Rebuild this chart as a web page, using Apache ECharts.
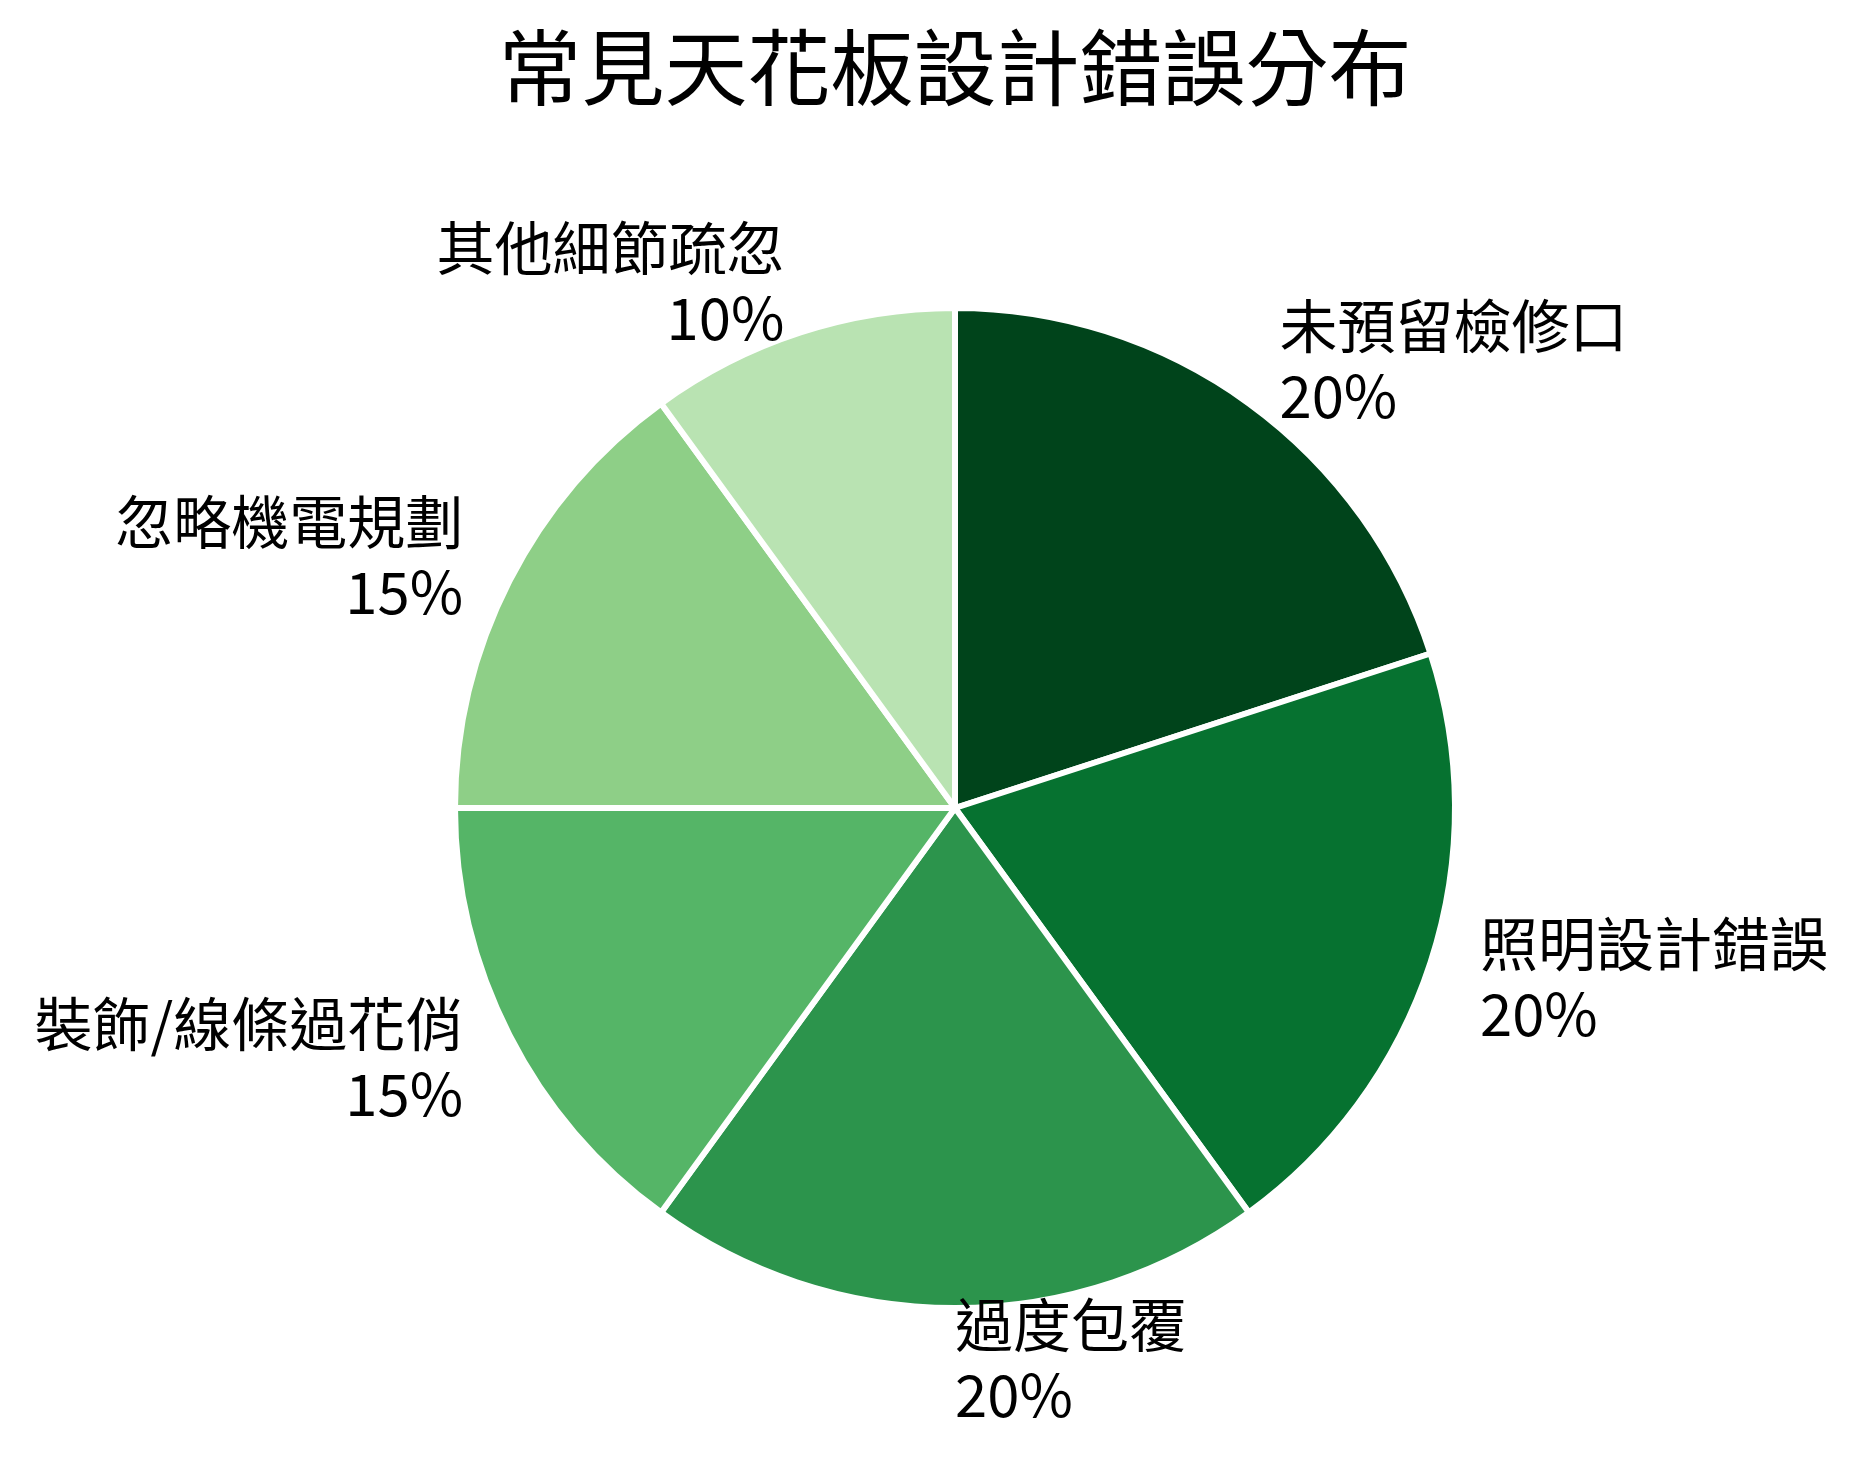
<!DOCTYPE html>
<html>
<head>
<meta charset="utf-8">
<script src="https://cdn.jsdelivr.net/npm/echarts@6/dist/echarts.min.js"></script>
<style>
html,body{margin:0;padding:0;background:#fff;}
#chart{width:1861px;height:1468px;}
</style>
</head>
<body>
<div id="chart"></div>
<script>
const chartTitle = '常見天花板設計錯誤分布';
const categories = ['未預留檢修口', '照明設計錯誤', '過度包覆', '裝飾/線條過花俏', '忽略機電規劃', '其他細節疏忽'];
const values = [20, 20, 20, 15, 15, 10];
const colors = ['#00441b', '#067230', '#2c944c', '#55b567', '#8ecf87', '#b9e3b2'];

const FONT = '"Noto Sans CJK TC", "Noto Sans CJK SC", "Noto Sans", sans-serif';
const chart = echarts.init(document.getElementById('chart'), null, {renderer: 'canvas'});
chart.setOption({
  backgroundColor: '#ffffff',
  animation: false,
  title: {
    text: chartTitle,
    left: 955,
    textAlign: 'center',
    top: 22,
    padding: 0,
    textStyle: {fontFamily: FONT, fontSize: 83, fontWeight: 'normal', color: '#000', lineHeight: 90}
  },
  series: [{
    type: 'pie',
    center: [955, 808],
    radius: [0, 500],
    startAngle: 90,
    clockwise: true,
    avoidLabelOverlap: false,
    itemStyle: {borderColor: '#ffffff', borderWidth: 6},
    label: {
      show: true,
      position: 'outside',
      formatter: '{b}\n{c}%',
      fontFamily: FONT,
      fontSize: 58,
      lineHeight: 70,
      color: '#000',
      padding: [0, 0, 8, 0],
      distanceToLabelLine: 0
    },
    labelLine: {show: false, length: 52, length2: 0},
    emphasis: {disabled: true},
    data: categories.map((name, i) => ({
      name: name,
      value: values[i],
      itemStyle: {color: colors[i]}
    }))
  }]
});
</script>
</body>
</html>
